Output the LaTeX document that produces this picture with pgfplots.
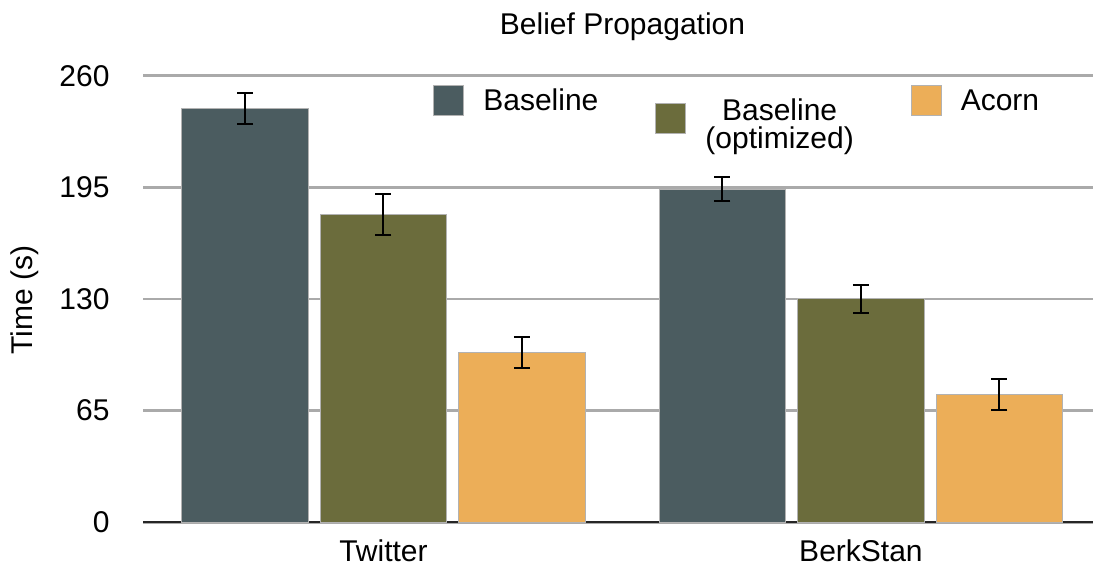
\documentclass[border=0pt]{standalone}
\usepackage{fontspec}
\setmainfont{Liberation Sans}
\usepackage{pgfplots}
\pgfplotsset{compat=1.18}
\definecolor{cBase}{RGB}{75,92,96}
\definecolor{cOpt}{RGB}{107,108,60}
\definecolor{cAcorn}{RGB}{236,174,88}
\definecolor{cGrid}{RGB}{170,170,170}
\newcommand{\fnt}{\fontsize{15}{18}\selectfont}

\begin{document}
\begin{tikzpicture}
\begin{axis}[
 scale only axis, width=474.85pt, height=223.3pt,
 xmin=-0.503, xmax=1.486, ymin=0, ymax=260,
 axis lines*=left,
 y axis line style={draw=none},
 x axis line style={line width=1.2pt, color=black!85},
 major tick length=0pt,
 xtick={0,1}, xticklabels={Twitter,BerkStan},
 ytick={0,65,130,195,260},
 ymajorgrids, grid style={line width=1.3pt, cGrid},
 tick label style={font=\fnt, inner sep=0pt},
 /pgf/number format/assume math mode=true,
 yticklabel style={anchor=east, xshift=-16.7pt},
 xticklabel style={anchor=north, yshift=-8.5pt},
 title={Belief Propagation},
 title style={font=\fnt, inner sep=0pt, at={(axis description cs:0.5,1)}, anchor=base, yshift=14.7pt, xshift=2.2pt},
 ylabel={Time (s)},
 ylabel style={font=\fnt, inner sep=0pt, at={(axis description cs:-0.1251,0.498)}, anchor=center},
 ybar, bar width=0.265, bar shift=0pt,
 error bars/y dir=both, error bars/y explicit,
 error bars/error bar style={line width=1pt, black},
 error bars/error mark options={rotate=90, line width=1pt, black, mark size=4pt},
 legend columns=3,
 legend style={draw=none, fill=none, inner sep=0pt, font=\fnt, at={(0.305,0.979)}, anchor=north west,
   nodes={inner sep=0pt}, cells={anchor=base west},
   /tikz/every odd column/.append style={column sep=9.5pt},
   /tikz/every even column/.append style={column sep=28.5pt}},
]
\addplot[fill=cBase, draw=gray!60, line width=0.5pt,
  legend image code/.code={\fill[cBase, draw=gray!60] (0pt,-2.5pt) rectangle (15pt,12.5pt);}]
  table[x=x, y=y, y error=e] {
x y e
-0.29 241 9
0.71 194 7
};
\addlegendentry{Baseline}
\addplot[fill=cOpt, draw=gray!60, line width=0.5pt,
  legend image code/.code={\fill[cOpt, draw=gray!60] (0pt,-11.5pt) rectangle (15pt,3.5pt);}]
  table[x=x, y=y, y error=e] {
x y e
0 179 12
1 130 8
};
\addlegendentry{\raisebox{-5pt}{\begin{tabular}[t]{@{}c@{}}Baseline\\[-4pt](optimized)\end{tabular}}}
\addplot[fill=cAcorn, draw=gray!60, line width=0.5pt,
  legend image code/.code={\fill[cAcorn, draw=gray!60] (0pt,-2.5pt) rectangle (15pt,12.5pt);}]
  table[x=x, y=y, y error=e] {
x y e
0.29 98.6 9
1.29 74.5 9
};
\addlegendentry{Acorn}
\end{axis}
\pgfresetboundingbox
\path[use as bounding box] (-71.65pt,-21.85pt) rectangle (474.85pt,261.15pt);
\end{tikzpicture}
\end{document}
